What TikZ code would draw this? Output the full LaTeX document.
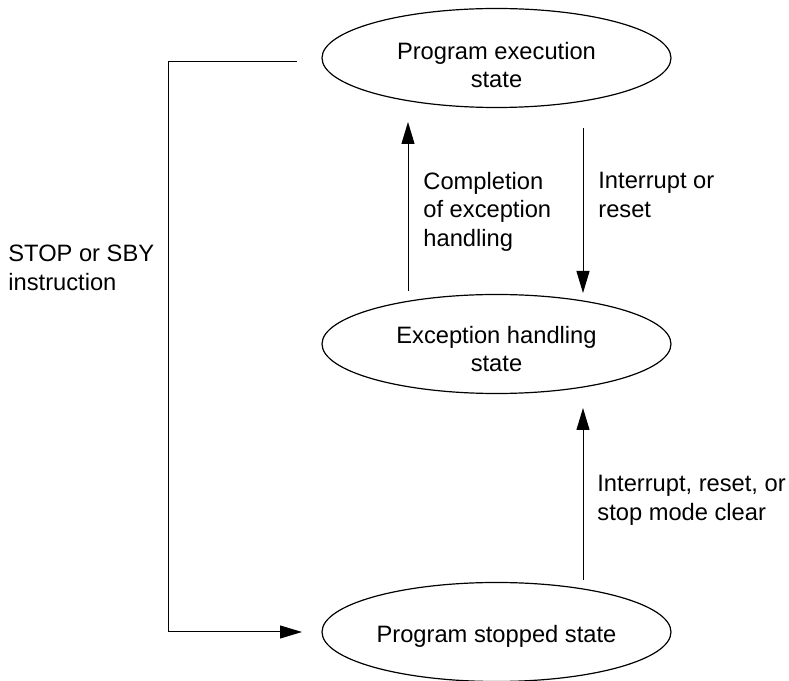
\documentclass[tikz,border=0pt]{standalone}
\usepackage{fontspec}
\setmainfont{Liberation Sans}
\usetikzlibrary{shapes.geometric, arrows.meta, positioning, calc}
\newcommand{\sttext}[2]{\raisebox{#1}[0pt][0pt]{\begin{tabular}[b]{@{}c@{}}#2\end{tabular}}}

\begin{document}
\begin{tikzpicture}[x=0.5pt, y=0.5pt,
  statebox/.style={ellipse, draw, line width=0.6pt, inner sep=0pt,
    minimum width=174.5pt, minimum height=49.5pt,
    font=\fontsize{11.85}{14.15}\selectfont},
  lbl/.style={anchor=north west, inner sep=0pt, align=left,
    font=\fontsize{11.85}{14.15}\selectfont},
  arr/.style={line width=0.5pt, -{Triangle[length=11pt, width=6.5pt]}}]

  \useasboundingbox (0,0) rectangle (789,681);

  % the three states
  \node[statebox] (exec) at (496.5,623) {\sttext{-14.75pt}{Program execution\\state}};
  \node[statebox] (exc) at (496.5,337) {\sttext{-14pt}{Exception handling\\state}};
  \node[statebox] (stop) at (496.5,49) {\sttext{-5.5pt}{Program stopped state}};

  % transitions
  \draw[arr] ($(exc.center)+(-88.5,53)$) -- ($(exec.center)+(-88.5,-64)$);
  \draw[arr] ($(exec.center)+(86.5,-70)$) -- ($(exc.center)+(86.5,51)$);
  \draw[arr] ($(stop.center)+(86.5,52)$) -- ($(exc.center)+(86.5,-64)$);
  \draw[arr] ($(exec.center)+(-199.5,-4)$) -| ($(stop.center)+(-328.5,0)$)
    -- ($(stop.center)+(-194.5,0)$);

  % labels
  \node[lbl] (lcompl) at (423,509) {Completion\\of exception\\handling};
  \node[lbl] (lint) at (598,509) {Interrupt or\\reset};
  \node[lbl] (lclear) at (597,206) {Interrupt, reset, or\\stop mode clear};
  \node[lbl] (lsby) at (8,436) {STOP or SBY\\instruction};
\end{tikzpicture}
\end{document}
